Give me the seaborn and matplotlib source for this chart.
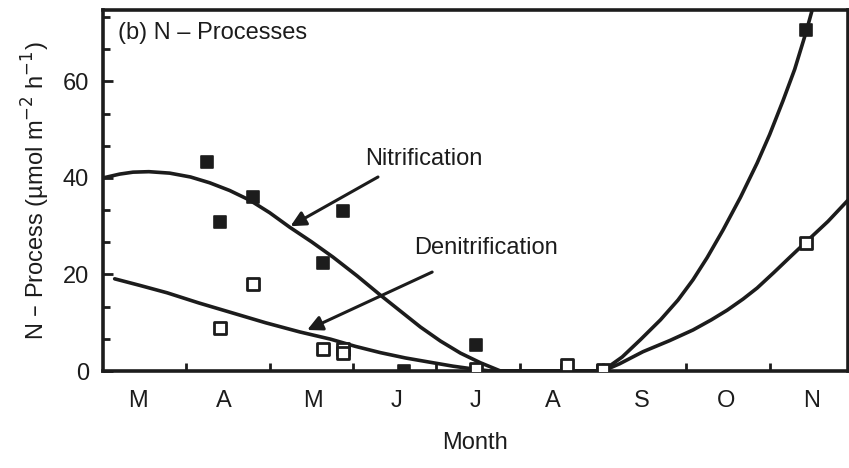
import numpy as np
import pandas as pd
import matplotlib
matplotlib.use("Agg")
import matplotlib.pyplot as plt
from matplotlib.ticker import MultipleLocator, FixedLocator, NullFormatter, FixedFormatter
import seaborn as sns

# ---- data (x in months from 1 March; y in umol m-2 h-1) ----
month_labels = ["M", "A", "M", "J", "J", "A", "S", "O", "N"]
month_label_pos = [0.42, 1.45, 2.52, 3.52, 4.47, 5.4, 6.46, 7.48, 8.5]

nit_x = [1.25, 1.40, 1.80, 2.64, 2.88, 3.61, 4.48, 5.57, 6.00, 8.44]
nit_y = [43.3, 30.9, 36.1, 22.4, 33.2, 0.0, 5.4, 0.2, 0.0, 70.7]

den_x = [1.40, 1.80, 2.64, 2.88, 2.88, 4.48, 5.57, 6.00, 8.44]
den_y = [8.9, 18.0, 4.6, 4.6, 3.8, 0.4, 1.2, 0.3, 26.5]

nit_fit_x = [0.0, 0.2, 0.36, 0.55, 0.8, 1.05, 1.28, 1.52, 1.76, 2.0, 2.24, 2.5, 2.76,
             3.05, 3.33, 3.57, 3.81, 4.05, 4.29, 4.53, 4.77, 5.4, 5.97, 6.1, 6.23,
             6.45, 6.69, 6.9, 7.08, 7.25, 7.44, 7.65, 7.85, 8.0, 8.16, 8.3, 8.44, 8.51]
nit_fit_y = [40.0, 40.8, 41.2, 41.3, 41.0, 40.2, 39.0, 37.4, 35.4, 32.8, 29.8, 26.8, 23.6,
             19.7, 15.7, 12.4, 9.1, 6.2, 3.7, 1.7, 0.0, 0.0, 0.0, 1.3, 2.9,
             6.5, 10.6, 14.7, 18.9, 23.5, 29.2, 36.0, 43.1, 49.0, 56.0, 62.5, 70.4, 74.8]

den_fit_x = [0.14, 0.45, 0.77, 1.15, 1.56, 1.95, 2.36, 2.73, 3.03, 3.33, 3.63, 3.93,
             4.2, 4.45, 4.65, 5.3, 6.0, 6.2, 6.48, 6.8, 7.08, 7.3, 7.49, 7.68, 7.85,
             8.05, 8.25, 8.44, 8.7, 8.94]
den_fit_y = [19.1, 17.7, 16.2, 14.1, 12.0, 10.0, 8.1, 6.6, 5.1, 3.8, 2.7, 1.8,
             1.0, 0.4, 0.0, 0.0, 0.0, 1.5, 4.0, 6.3, 8.5, 10.6, 12.6, 14.9, 17.2,
             20.4, 23.7, 26.8, 31.0, 35.4]

# ---- plotting ----
sns.set_style("ticks")
plt.rcParams["font.family"] = ["Liberation Sans", "DejaVu Sans"]

fig = plt.figure(figsize=(8.49, 4.68), dpi=100)
ax = fig.add_axes([103/849, 97/468, 745/849, 361/468])

ink = "#1c1c1c"
sns.lineplot(x=nit_fit_x, y=nit_fit_y, ax=ax, color=ink, lw=2.6, sort=False, zorder=3)
sns.lineplot(x=den_fit_x, y=den_fit_y, ax=ax, color=ink, lw=2.6, sort=False, zorder=3)
sns.scatterplot(x=nit_x, y=nit_y, ax=ax, marker="s", s=80, color=ink,
                edgecolor=ink, linewidth=1.2, zorder=4)
sns.scatterplot(x=den_x, y=den_y, ax=ax, marker="s", s=70, facecolor="white",
                edgecolor=ink, linewidth=2.0, zorder=5)

ax.set_xlim(0, 8.94)
ax.set_ylim(0, 74.8)

# y ticks
ax.yaxis.set_major_locator(FixedLocator([0, 20, 40, 60]))
ax.yaxis.set_minor_locator(MultipleLocator(20/3))
ax.tick_params(axis="y", which="major", direction="in", length=7, width=2,
               labelsize=17, pad=10, colors=ink)
ax.tick_params(axis="y", which="minor", direction="in", length=5, width=2, colors=ink)

# x ticks: marks at month boundaries, labels in between
ax.xaxis.set_major_locator(FixedLocator(month_label_pos))
ax.xaxis.set_major_formatter(FixedFormatter(month_labels))
ax.xaxis.set_minor_locator(FixedLocator([1, 2, 3, 4, 5, 6, 7, 8]))
ax.xaxis.set_minor_formatter(NullFormatter())
ax.tick_params(axis="x", which="major", length=0, labelsize=17, pad=14, colors=ink)
ax.tick_params(axis="x", which="minor", direction="in", length=6, width=2, colors=ink)

for sp in ax.spines.values():
    sp.set_linewidth(2.6)
    sp.set_color(ink)

ax.set_xlabel("Month", fontsize=17, labelpad=14, color=ink)
ax.set_ylabel("N – Process (µmol m$^{-2}$ h$^{-1}$)", fontsize=17, labelpad=8, color=ink)

ax.text(0.02, 0.935, "(b) N – Processes", transform=ax.transAxes, fontsize=17,
        ha="left", va="center", color=ink)

arrow = dict(arrowstyle="-|>,head_length=0.9,head_width=0.45", color=ink, lw=2.2,
             shrinkA=0, shrinkB=0)
ax.annotate("Nitrification", xy=(2.25, 30.0), xytext=(3.85, 44.0),
            fontsize=17, color=ink, ha="center", va="center", arrowprops=None)
ax.annotate("", xy=(2.25, 30.0), xytext=(3.3, 40.2), arrowprops=arrow)
ax.annotate("Denitrification", xy=(2.45, 8.5), xytext=(4.6, 25.5),
            fontsize=17, color=ink, ha="center", va="center", arrowprops=None)
ax.annotate("", xy=(2.45, 8.5), xytext=(3.95, 20.5), arrowprops=arrow)

fig.savefig("out.png", dpi=100)
